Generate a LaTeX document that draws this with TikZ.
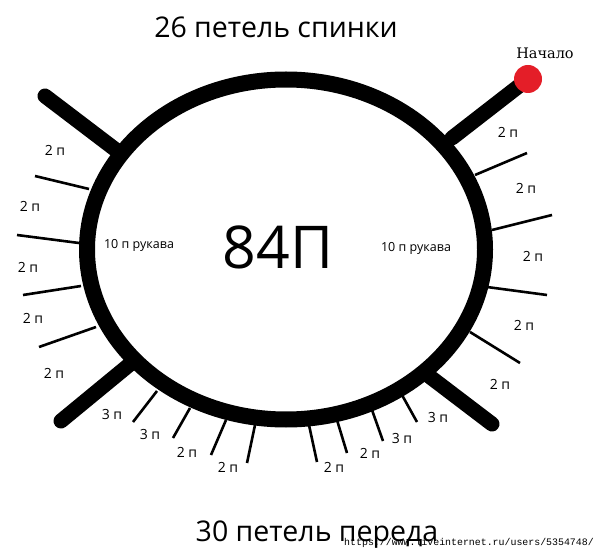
\documentclass[tikz,border=0pt]{standalone}
\usepackage{fontspec}
\setmainfont{Open Sans}
\newfontfamily\serifont{DejaVu Serif}
\newfontfamily\monofont{Liberation Mono}
\definecolor{startred}{RGB}{228,30,40}
\tikzset{
  ring/.style={line width=16pt},
  arm/.style={line width=15pt, line cap=round},
  tick/.style={line width=2.6pt},
  cnt/.style={font=\fontsize{14}{16}\selectfont},
  sleeve/.style={font=\fontsize{12.5}{14}\selectfont},
}
\begin{document}
\begin{tikzpicture}[x=1pt, y=-1pt]
  \useasboundingbox (0,0) rectangle (602,553);
  % body
  \draw[ring] (286,249.5) ellipse [x radius=199, y radius=170];
  % four armholes
  \draw[arm] (45,96) -- (116,150);
  \draw[arm] (61,421) -- (129,365);
  \draw[arm] (492,424) -- (425,373);
  \draw[arm] (452,138) -- (528,79);
  \node[circle, fill=startred, minimum size=28pt, inner sep=0pt] (start) at (528,79) {};
  \node[font=\serifont\fontsize{14.5}{16}\selectfont] (startlabel) at (545,53) {Начало};
  % ticks
  \foreach \xa/\ya/\xb/\yb in {35/176/89/189, 17/235/79/243, 23/295/81/286, 39/347/96/327,
      133/422/157/391, 173/438/190/408, 211/455/226/420, 247/463/255/425,
      317/462/309/425, 347/453/337/420, 383/441/372/410, 417/422/402/395,
      475/175/527/153, 492/230/552/215, 487/287/547/295, 470/332/520/363}
    \draw[tick] (\xa,\ya) -- (\xb,\yb);
  % counts
  \foreach \x/\y/\t in {55/150/2, 30/206/2, 28/267/2, 33/318/2, 54/373/2,
      112/414/3, 150/434/3, 187/452/2, 228/467/2, 334/467/2, 370/453/2,
      402/438/3, 438/417/3, 500/384/2, 524/325/2, 533/256/2, 526/188/2, 508/132/2}
    \node[cnt] at (\x,\y) {\t\ п};
  % inside
  \node[sleeve] (sleeveL) at (139,245) {10 п рукава};
  \node[sleeve] (sleeveR) at (416,248) {10 п рукава};
  \node[font=\fontsize{59}{66}\selectfont] (total) at (278,247) {84П};
  % back and front
  \node[font=\fontsize{28.5}{32}\selectfont] (back) at (276,27) {26 петель спинки};
  \node[font=\fontsize{28.5}{32}\selectfont] (front) at (317,535) {30 петель переда};
  \node[font=\monofont\fontsize{9.9}{12}\selectfont, inner sep=0pt] (wm) at (469,543) {https://www.liveinternet.ru/users/5354748/};
\end{tikzpicture}
\end{document}
